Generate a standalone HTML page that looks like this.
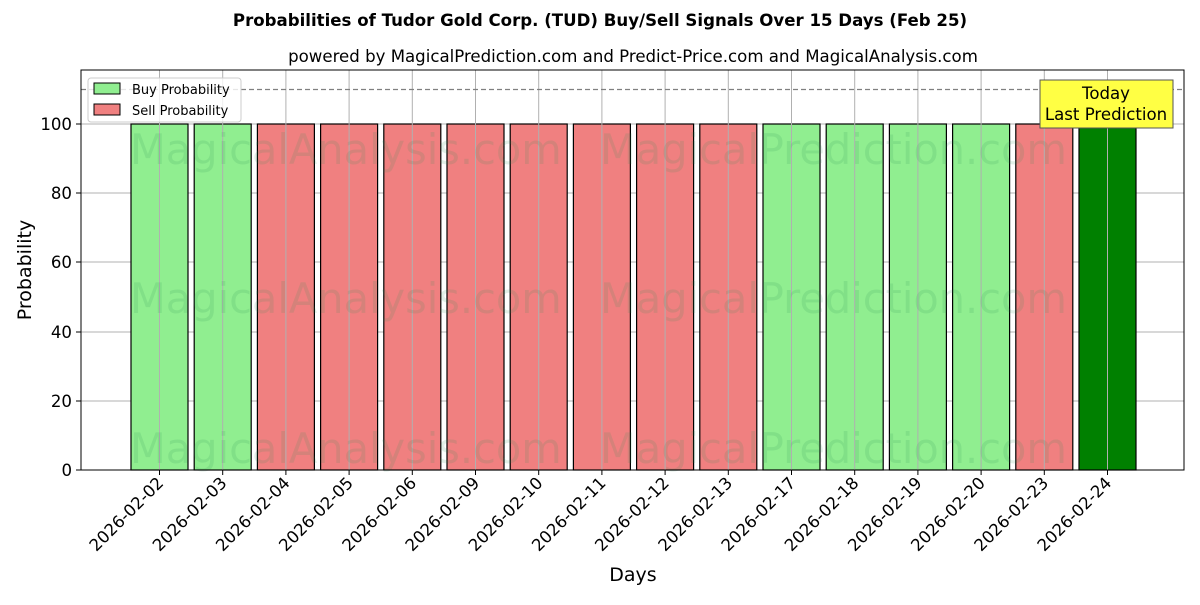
<!DOCTYPE html>
<html><head><meta charset="utf-8"><style>body{margin:0;background:#fff}</style></head><body>
<svg width="1200" height="600" xmlns="http://www.w3.org/2000/svg" font-family="DejaVu Sans, Liberation Sans, sans-serif">
<rect width="1200" height="600" fill="#fff"/>
<text x="600" y="26" text-anchor="middle" font-size="16.6" font-weight="bold">Probabilities of Tudor Gold Corp. (TUD) Buy/Sell Signals Over 15 Days (Feb 25)</text>
<text x="633" y="62" text-anchor="middle" font-size="16.6">powered by MagicalPrediction.com and Predict-Price.com and MagicalAnalysis.com</text>
<g stroke="#b0b0b0" stroke-width="1">
<line x1="81" x2="1184" y1="470" y2="470"/><line x1="81" x2="1184" y1="401" y2="401"/><line x1="81" x2="1184" y1="332" y2="332"/><line x1="81" x2="1184" y1="262" y2="262"/><line x1="81" x2="1184" y1="193" y2="193"/><line x1="81" x2="1184" y1="124" y2="124"/>
</g>
<g id="bars" stroke="#000" stroke-width="1.2"></g>
<g stroke="#b0b0b0" stroke-width="1" id="vg"></g>
<g font-size="41.5" fill="#2e8b57" fill-opacity="0.14">
<text x="130" y="164">MagicalAnalysis.com</text><text x="600" y="164">MagicalPrediction.com</text>
<text x="130" y="313">MagicalAnalysis.com</text><text x="600" y="313">MagicalPrediction.com</text>
<text x="130" y="463">MagicalAnalysis.com</text><text x="600" y="463">MagicalPrediction.com</text>
</g>
<line x1="81" x2="1184" y1="89.5" y2="89.5" stroke="#808080" stroke-width="1.2" stroke-dasharray="5,3"/>
<rect x="81" y="70" width="1103" height="400" fill="none" stroke="#000" stroke-width="1"/>
<g font-size="16.6" text-anchor="end">
<text x="72" y="476">0</text><text x="72" y="407">20</text><text x="72" y="338">40</text><text x="72" y="268">60</text><text x="72" y="199">80</text><text x="72" y="130">100</text>
</g>
<g stroke="#000"><line x1="76" x2="81" y1="470" y2="470"/><line x1="76" x2="81" y1="401" y2="401"/><line x1="76" x2="81" y1="332" y2="332"/><line x1="76" x2="81" y1="262" y2="262"/><line x1="76" x2="81" y1="193" y2="193"/><line x1="76" x2="81" y1="124" y2="124"/></g>
<g id="xl" font-size="16.6" text-anchor="end"></g>
<text x="633" y="581" text-anchor="middle" font-size="19">Days</text>
<text transform="translate(31,270) rotate(-90)" text-anchor="middle" font-size="19">Probability</text>
<rect x="88" y="78" width="153" height="44" fill="#fff" fill-opacity="0.8" stroke="#ccc" rx="3"/>
<rect x="94" y="83" width="26" height="11" fill="#90ee90" stroke="#000"/>
<text x="132" y="94" font-size="13">Buy Probability</text>
<rect x="94" y="104" width="26" height="11" fill="#f08080" stroke="#000"/>
<text x="132" y="115" font-size="13">Sell Probability</text>
<rect x="1040" y="80" width="133" height="48" fill="#ffff44" stroke="#555"/>
<text x="1106" y="99" text-anchor="middle" font-size="16.6">Today</text>
<text x="1106" y="120" text-anchor="middle" font-size="16.6">Last Prediction</text>
</svg>
<script>
var d=["2026-02-02","2026-02-03","2026-02-04","2026-02-05","2026-02-06","2026-02-09","2026-02-10","2026-02-11","2026-02-12","2026-02-13","2026-02-17","2026-02-18","2026-02-19","2026-02-20","2026-02-23","2026-02-24"];
var c="BBSSSSSSSSBBBBSG";
var ns="http://www.w3.org/2000/svg",b=document.getElementById("bars"),v=document.getElementById("vg"),xl=document.getElementById("xl");
for(var i=0;i<16;i++){var x=159.5+i*63.2;
var vl=document.createElementNS(ns,"line");vl.setAttribute("x1",x);vl.setAttribute("x2",x);vl.setAttribute("y1",70);vl.setAttribute("y2",470);v.appendChild(vl);
var r=document.createElementNS(ns,"rect");r.setAttribute("x",x-28.5);r.setAttribute("y",124);r.setAttribute("width",57);r.setAttribute("height",346);
r.setAttribute("fill",c[i]=="B"?"#90ee90":c[i]=="S"?"#f08080":"#008000");b.appendChild(r);
var t=document.createElementNS(ns,"line");t.setAttribute("x1",x);t.setAttribute("x2",x);t.setAttribute("y1",470);t.setAttribute("y2",475);t.setAttribute("stroke","#000");xl.appendChild(t);
var tx=document.createElementNS(ns,"text");tx.setAttribute("transform","translate("+(x+5)+",484) rotate(-45)");tx.textContent=d[i];xl.appendChild(tx);}
</script>
</body></html>
